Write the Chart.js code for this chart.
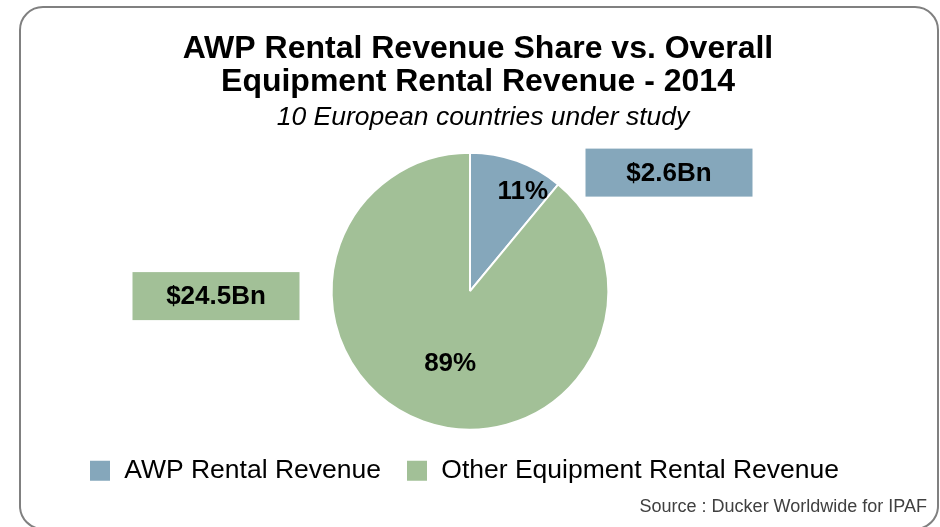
<!DOCTYPE html>
<html>
<head>
<meta charset="utf-8">
<script src="https://cdn.jsdelivr.net/npm/chart.js@4/dist/chart.umd.min.js"></script>
<style>
  html, body { margin: 0; padding: 0; background: #ffffff; }
  #wrap { position: relative; width: 940px; height: 527px; overflow: hidden; }
  #frame { position: absolute; left: 19px; top: 6px; width: 916px; height: 520px;
           border: 2px solid #808080; border-radius: 24px; box-sizing: content-box; }
  #c { position: absolute; left: 0; top: 0; }
</style>
</head>
<body>
<div id="wrap">
  <div id="frame"></div>
  <canvas id="c" width="940" height="527"></canvas>
</div>
<script>
// ---- data ----
const categories = ['AWP Rental Revenue', 'Other Equipment Rental Revenue'];
const sharePercent = [11, 89];
const revenueBn = [2.6, 24.5];
const titleLines = ['AWP Rental Revenue Share vs. Overall', 'Equipment Rental Revenue - 2014'];
const subtitleText = '10 European countries under study';
const sourceText = 'Source : Ducker Worldwide for IPAF';

// ---- styles ----
const sliceColors = ['#85a7bb', '#a2c097'];
const FONT = 'Liberation Sans, Arial, Helvetica, sans-serif';
// percent label nudges (px) relative to the slice mid-point
const pctStyle = [{ f: 0.72, dx: 19, dy: -6 }, { f: 0.53, dx: 5, dy: 4 }];
// callout boxes relative to pie centre
const boxStyle = [
  { dx: 115.5, dy: -142.5, w: 167, h: 48 },
  { dx: -337.5, dy: -19, w: 167, h: 48 }
];
// horizontal / vertical nudges of the title, subtitle and legend boxes
const boxShift = { title: 8, subtitle: 13, legendX: -6, legendY: 2 };

const layoutNudge = {
  id: 'layoutNudge',
  afterLayout(chart) {
    chart.boxes.forEach(b => {
      if (!b.options) return;
      if (b.options.text === titleLines) { b.left += boxShift.title; b.right += boxShift.title; }
      else if (b.options.text === subtitleText) { b.left += boxShift.subtitle; b.right += boxShift.subtitle; }
    });
    const lg = chart.legend;
    if (lg) {
      lg.left += boxShift.legendX; lg.right += boxShift.legendX;
      lg.top += boxShift.legendY; lg.bottom += boxShift.legendY;
    }
  }
};

const labelPlugin = {
  id: 'sliceLabels',
  afterDatasetsDraw(chart) {
    const ctx = chart.ctx;
    const meta = chart.getDatasetMeta(0);
    const ds = chart.data.datasets[0];
    meta.data.forEach((arc, i) => {
      const p = arc.getProps(['x', 'y', 'startAngle', 'endAngle', 'outerRadius'], true);
      const mid = (p.startAngle + p.endAngle) / 2;
      const s = pctStyle[i];
      const lx = p.x + Math.cos(mid) * p.outerRadius * s.f + s.dx;
      const ly = p.y + Math.sin(mid) * p.outerRadius * s.f + s.dy;
      ctx.save();
      ctx.fillStyle = '#000000';
      ctx.font = 'bold 26px ' + FONT;
      ctx.textAlign = 'center';
      ctx.textBaseline = 'middle';
      ctx.fillText(ds.data[i] + '%', lx, ly);
      // callout box
      const b = boxStyle[i];
      const bx = p.x + b.dx, by = p.y + b.dy;
      ctx.fillStyle = sliceColors[i];
      ctx.fillRect(bx, by, b.w, b.h);
      ctx.fillStyle = '#000000';
      ctx.fillText('$' + revenueBn[i] + 'Bn', bx + b.w / 2, by + b.h / 2 + 1);
      ctx.restore();
    });
    // source note
    ctx.save();
    ctx.fillStyle = '#404040';
    ctx.font = '18px ' + FONT;
    ctx.textAlign = 'right';
    ctx.textBaseline = 'middle';
    ctx.fillText(sourceText, 927, 507);
    ctx.restore();
  }
};

new Chart(document.getElementById('c'), {
  type: 'pie',
  data: {
    labels: categories,
    datasets: [{
      data: sharePercent,
      backgroundColor: sliceColors,
      borderColor: '#ffffff',
      borderWidth: 2
    }]
  },
  options: {
    responsive: false,
    animation: false,
    layout: { padding: { top: 0, bottom: 35, left: 0, right: 0 } },
    plugins: {
      tooltip: { enabled: false },
      title: {
        display: true,
        text: titleLines,
        color: '#000000',
        font: { family: FONT, size: 32, weight: 'bold', lineHeight: 1.03 },
        padding: { top: 33, bottom: 0 }
      },
      subtitle: {
        display: true,
        text: subtitleText,
        color: '#000000',
        font: { family: FONT, size: 26.5, style: 'italic', lineHeight: 1.2 },
        padding: { top: 3, bottom: 18 }
      },
      legend: {
        display: true,
        position: 'bottom',
        labels: {
          color: '#000000',
          font: { family: FONT, size: 26.5 },
          boxWidth: 22,
          boxHeight: 22,
          padding: 25
        }
      }
    }
  },
  plugins: [labelPlugin, layoutNudge]
});
</script>
</body>
</html>
